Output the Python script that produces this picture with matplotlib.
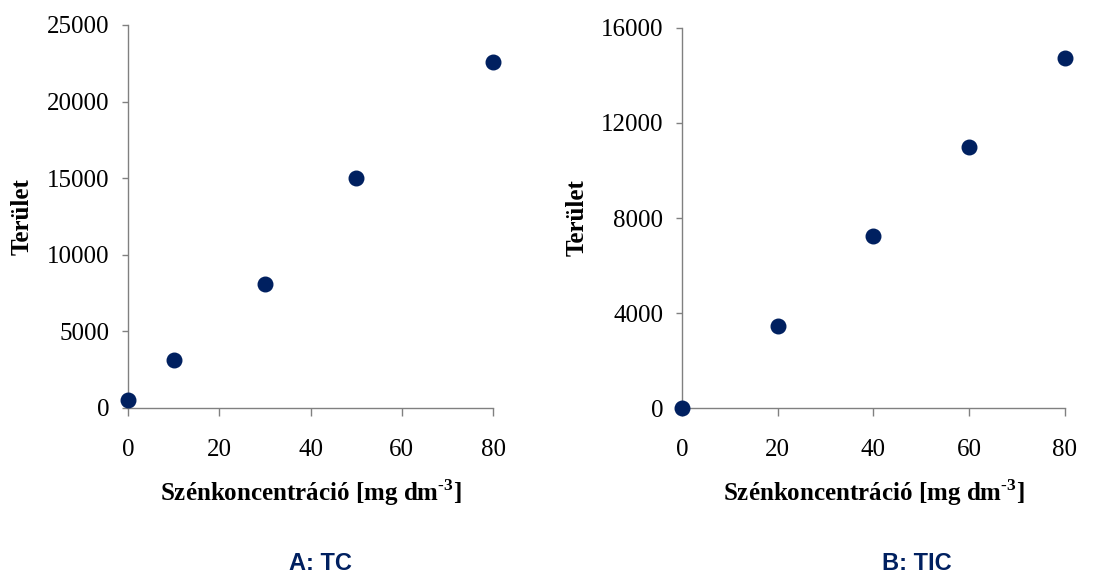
import numpy as np
import matplotlib
matplotlib.use("Agg")
import matplotlib.pyplot as plt

plt.rcParams['font.family'] = ['Liberation Serif', 'DejaVu Serif']
plt.rcParams['mathtext.fontset'] = 'custom'
plt.rcParams['mathtext.rm'] = 'Liberation Serif'
plt.rcParams['mathtext.bf'] = 'Liberation Serif:bold'

# TC calibration
tc_conc = [0, 10, 30, 50, 80]
tc_area = [520, 3150, 8080, 14980, 22560]
tc_yticks = [0, 5000, 10000, 15000, 20000, 25000]

# TIC calibration
tic_conc = [0, 20, 40, 60, 80]
tic_area = [0, 3440, 7250, 11000, 14740]
tic_yticks = [0, 4000, 8000, 12000, 16000]

xticks = [0, 20, 40, 60, 80]
navy = '#002060'
grey = '#808080'

fig = plt.figure(figsize=(11.01, 5.76), dpi=100)

ax1 = fig.add_axes([0.1163, 0.2917, 0.3315, 0.6649])
ax2 = fig.add_axes([0.6194, 0.2911, 0.3479, 0.6608])


def style_axis(ax, conc, area, yticks, ylab_x):
    ax.scatter(conc, area, s=110, color=navy, zorder=3, clip_on=False)
    ax.set_xlim(0, 80)
    ax.set_ylim(0, yticks[-1])
    ax.set_xticks(xticks)
    ax.set_yticks(yticks)
    for s in ['top', 'right']:
        ax.spines[s].set_visible(False)
    for s in ['left', 'bottom']:
        ax.spines[s].set_color(grey)
        ax.spines[s].set_linewidth(1.0)
    ax.tick_params(axis='x', direction='out', length=6, width=1.0, color=grey,
                   labelsize=18, pad=16)
    ax.tick_params(axis='y', direction='out', length=4.5, width=1.0, color=grey,
                   labelsize=18, pad=9)
    # bold hyphen in the exponent instead of the math minus
    ax.set_xlabel('Szénkoncentráció [mg dm$^{\\mathbf{\u20103}}$]', fontsize=18,
                  fontweight='bold')
    ax.xaxis.set_label_coords(0.5, -0.222)
    ax.xaxis.label.set_verticalalignment('center')
    ax.set_ylabel('Terület', fontsize=18, fontweight='bold')
    ax.yaxis.set_label_coords(ylab_x, 0.5)
    ax.yaxis.label.set_verticalalignment('center')


style_axis(ax1, tc_conc, tc_area, tc_yticks, -0.29)
style_axis(ax2, tic_conc, tic_area, tic_yticks, -0.274)

# panel captions under the plots
fig.text(320 / 1101, 1 - 570 / 576, 'A: TC', family='Liberation Sans',
         fontsize=17, fontweight='bold', color=navy, ha='center', va='baseline')
fig.text(917 / 1101, 1 - 570 / 576, 'B: TIC', family='Liberation Sans',
         fontsize=17, fontweight='bold', color=navy, ha='center', va='baseline')

fig.savefig('out.png', dpi=100)
